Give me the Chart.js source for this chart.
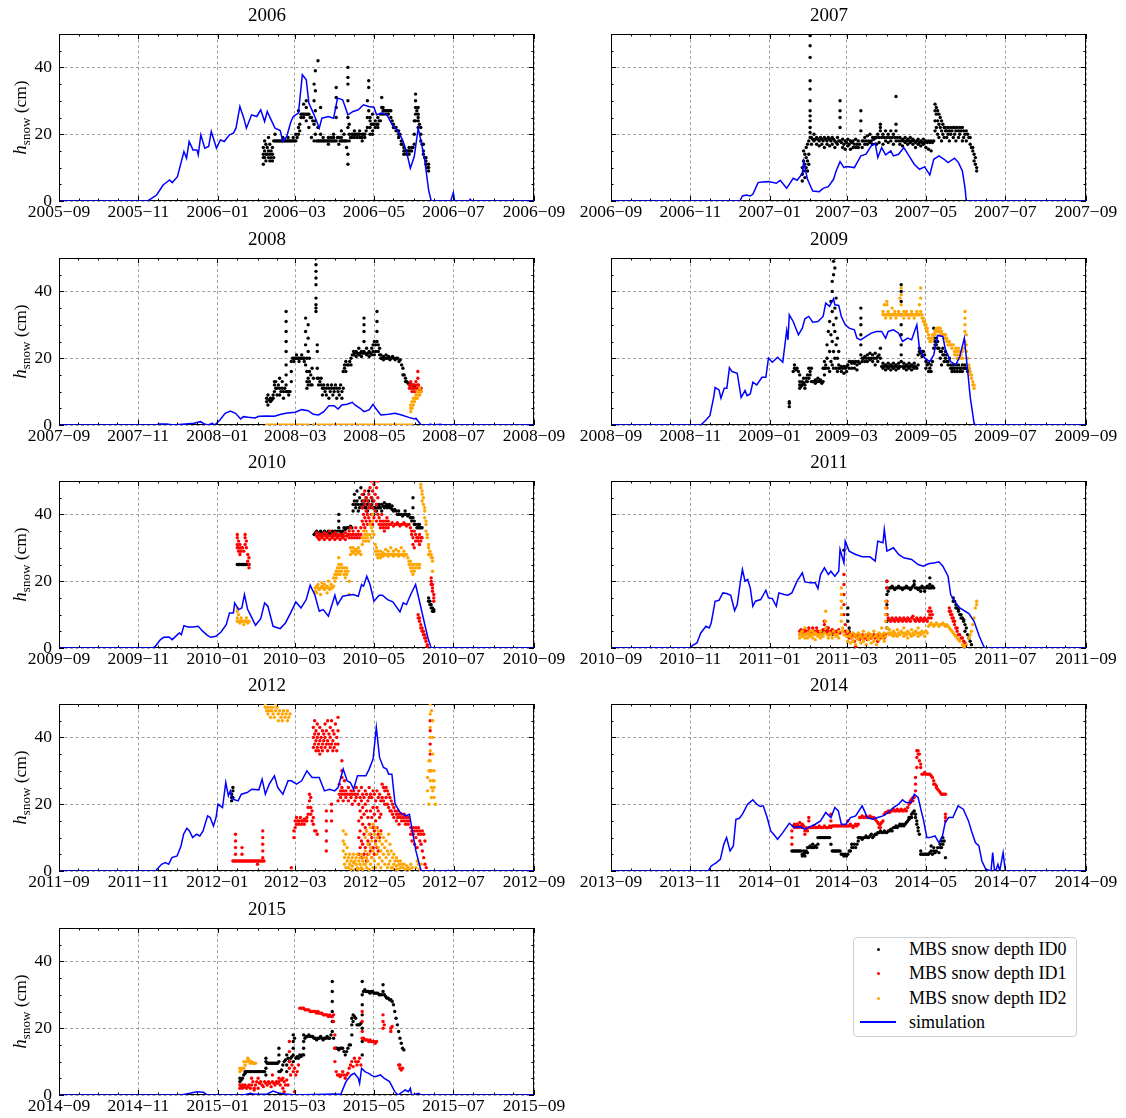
<!DOCTYPE html>
<html>
<head>
<meta charset="UTF-8">
<title>MBS snow depth vs simulation</title>
<script src="https://cdn.jsdelivr.net/npm/chart.js"></script>
<style>
  body { margin: 0; background: #fff; }
  #page { position: relative; width: 1126px; height: 1118px; }
  #page canvas { position: absolute; }
  .legend { position: absolute; left: 853px; top: 937px; width: 222px; height: 98px; border: 1px solid #cfcfcf;
            border-radius: 4px; background: #fff; font-family: 'Liberation Serif', serif; font-size: 18px; color: #000; }
  .legend .row { position: absolute; left: 0; width: 100%; height: 24px; }
  .legend .dot { position: absolute; left: 23px; top: 10.5px; width: 3px; height: 3px; border-radius: 50%; }
  .legend .ln { position: absolute; left: 6px; top: 11px; width: 36px; height: 2px; background: #0000ff; }
  .legend .txt { position: absolute; left: 55px; top: 0; line-height: 24px; white-space: nowrap; }
</style>
</head>
<body>
<div id="page"></div>
<script>
// x = days since 1 September of the season start, y = snow depth in cm

const sim2006 = [[0,0],[68,0],[70,0.5],[74,1.5],[75,1.8],[80,4.8],[85,6.3],[87,5.5],[91,7.3],[96,14.8],[98,12.8],[100,17.8],[103,15.3],[106,15.3],[107,13.8],[109,19.8],[112,15.8],[115,16.3],[117,20.8],[121,15.8],[124,18.3],[127,17.8],[131,19.8],[134,20.3],[136,21.8],[139,28.3],[142,24.8],[144,21.8],[148,25.8],[152,25.3],[155,27.3],[158,23.8],[160,26.8],[163,24.3],[166,21.8],[170,21.1],[172,17.8],[175,19.3],[178,23.5],[180,25.3],[184,26.3],[187,37.8],[190,36.3],[192,29.3],[196,25.8],[200,21.8],[202,24.8],[207,25.3],[211,24.8],[214,30.8],[218,30.3],[222,25.8],[226,26.8],[230,27.3],[234,28.8],[238,28.3],[242,28.1],[244,25.8],[248,26.3],[252,25.8],[256,22.8],[260,21.3],[264,18.3],[267,14.8],[270,9.8],[273,13.3],[276,21.8],[278,18.3],[281,12.3],[284,3.3],[286,0],[301,0],[303,2.5],[304,0],[315,0],[316,0.5],[317,0],[365,0]];
const id0_2006 = [[157,14],[157,13],[157,16],[157,11],[158,15],[158,18],[158,13],[159,14],[159,12],[159,17],[160,16],[160,14],[161,13],[161,15],[161,19],[162,14],[162,17],[162,12],[163,15],[163,13],[164,14],[164,16],[164,12],[165,13],[165,18],[166,18],[166,20],[167,18],[168,18],[169,18],[170,18],[171,18],[172,18],[172,19],[173,18],[174,18],[175,18],[176,18],[176,19],[177,18],[178,18],[179,18],[180,18],[180,19],[181,18],[182,18],[182,20],[183,19],[184,20],[184,22],[184,27],[185,23],[185,21],[186,26],[186,25],[187,26],[188,26],[188,25],[188,29],[189,26],[190,26],[190,24],[190,30],[190,28],[191,26],[192,26],[192,22],[193,25],[194,25],[194,19],[195,24],[196,18],[196,23],[196,30],[196,35],[197,33],[197,39],[197,27],[197,24],[197,20],[198,18],[199,18],[199,42],[199,22],[200,18],[201,18],[201,20],[201,28],[202,18],[203,18],[203,19],[204,18],[205,18],[206,18],[207,18],[207,17],[207,19],[208,18],[209,18],[209,19],[210,18],[211,18],[211,19],[211,20],[212,18],[213,18],[213,25],[213,34],[213,28],[213,31],[214,19],[215,19],[215,17],[216,18],[217,18],[217,19],[217,21],[218,18],[219,18],[219,20],[220,18],[221,18],[221,16],[222,14],[222,11],[222,30],[222,35],[222,37],[222,40],[222,25],[222,22],[223,18],[223,20],[223,23],[224,19],[225,19],[225,20],[226,20],[227,20],[227,19],[227,21],[228,20],[229,20],[229,19],[230,20],[231,19],[231,20],[231,21],[232,19],[233,19],[233,20],[233,18],[234,20],[235,20],[235,19],[236,21],[237,22],[237,25],[237,30],[238,34],[238,36],[238,27],[239,22],[239,25],[239,20],[239,24],[240,23],[241,23],[241,21],[241,26],[241,20],[242,23],[243,24],[243,22],[244,23],[245,23],[245,22],[245,25],[246,24],[247,24],[247,26],[248,28],[248,31],[249,27],[249,26],[249,28],[250,27],[251,27],[251,26],[252,27],[253,27],[253,26],[254,27],[255,27],[255,25],[256,24],[257,23],[257,22],[258,22],[259,22],[259,21],[260,21],[261,21],[261,20],[261,19],[262,20],[263,18],[263,17],[264,17],[265,16],[265,15],[265,14],[266,15],[267,15],[267,14],[268,15],[269,15],[269,14],[269,16],[270,15],[271,15],[271,16],[272,16],[273,17],[273,20],[273,24],[274,24],[274,28],[274,32],[274,30],[274,26],[275,27],[276,26],[276,28],[276,24],[276,22],[276,25],[277,23],[278,22],[278,20],[278,18],[279,17],[280,17],[280,15],[280,14],[281,13],[282,13],[282,12],[282,11],[283,10],[284,10],[284,9],[284,11]];

const sim2007 = [[0,0],[99,0],[101,1.5],[104,1.8],[107,1.5],[109,2],[113,5.5],[116,5.7],[121,5.8],[127,5.3],[130,6.2],[135,3.8],[140,6.8],[143,6.2],[147,8.2],[148,11.8],[151,6.5],[155,3],[160,2.8],[163,3.8],[167,4.3],[171,6.5],[173,9],[176,11.8],[179,10],[181,10.3],[187,10],[192,13.5],[196,14],[200,16.5],[203,17.3],[205,13],[208,16],[211,13.8],[215,15],[217,13.5],[221,14],[225,16],[229,13.5],[233,11],[237,9.5],[241,10.2],[245,7.8],[248,12.5],[252,13.5],[256,12.5],[259,11.5],[264,12.8],[267,11.5],[270,9],[272,4],[273,0],[365,0]];
const id0_2007 = [[147,8],[147,10],[147,6],[148,12],[148,9],[148,15],[149,11],[149,7],[149,14],[150,13],[150,10],[150,16],[151,12],[151,9],[151,17],[152,14],[152,11],[152,18],[153,19],[153,20.5],[153,22],[153,24],[153,25.5],[153,27],[153,30],[153,33.5],[153,36],[153,43],[153,46.5],[153,49.5],[154,19],[154,17],[155,18.5],[156,18],[156,20],[157,18.5],[158,17],[158,19],[159,18.5],[160,18],[160,16.5],[161,19],[162,18.5],[162,17],[163,18],[164,19],[164,16],[165,18.5],[166,18],[166,17],[167,19],[168,18.5],[168,16.5],[169,18],[170,19],[170,17],[171,18.5],[172,18],[172,16],[173,17.5],[174,19],[174,17],[175,18],[176,18],[176,22],[176,25],[176,27],[176,30],[177,17.5],[178,16],[178,18.5],[179,17],[180,18],[180,15.5],[181,17.5],[182,16.5],[182,18.5],[183,17],[184,18],[184,15.5],[185,17.5],[186,16],[186,18],[187,17],[188,18.5],[188,16],[189,17],[190,16],[190,18],[191,17],[192,21],[192,24],[192,27],[193,18],[193,16],[194,18],[195,17],[195,19],[196,18],[197,17],[197,19.5],[198,18],[199,17.5],[199,20],[200,18],[201,19],[201,17],[202,18.5],[203,19],[204,19],[204,17],[205,20],[206,19],[206,17.5],[207,21],[207,23],[207,22],[208,19],[209,20],[209,17],[210,19],[211,21],[211,18],[212,19],[213,20],[213,17.5],[214,19],[215,21],[215,18],[216,19],[217,20],[217,17],[218,19],[219,21],[219,23],[219,31.3],[219,18],[220,19],[221,18],[222,17],[222,19],[223,18],[224,18.5],[224,16.5],[225,18],[226,17.5],[226,19],[227,18],[228,17],[228,18.5],[229,18],[230,17.5],[230,19],[231,18],[232,17],[232,18.5],[233,18],[234,17.5],[234,16],[235,18],[236,17],[236,18.5],[237,17.5],[238,18],[238,16.5],[239,17.5],[240,17],[240,18.5],[241,17.5],[242,16],[242,18],[243,17.5],[244,15.5],[244,18],[245,17.5],[246,18],[246,15],[247,17.5],[248,18],[249,29],[249,27],[249,24],[249,21],[250,28],[250,26],[250,22],[251,27],[251,24],[251,20],[252,26],[252,23],[252,19],[253,25],[253,22],[254,24],[254,21],[254,18],[255,23],[255,20],[256,22],[256,19],[257,22],[257,21],[258,21],[258,19],[259,22],[259,20],[260,21],[260,18],[261,22],[261,20],[262,21],[263,22],[263,19],[264,22],[264,20],[265,21],[265,18],[266,22],[267,21],[267,19],[268,22],[268,20],[269,21],[270,22],[270,18],[271,21],[271,19],[272,20],[273,21],[273,18],[274,20],[275,19],[276,17],[276,19],[277,16],[278,15],[278,16],[279,14],[279,12],[280,11],[280,13],[281,10],[281,9]];

const sim2008 = [[0,0],[75,0],[77,0.3],[83,0.3],[88,0],[104,0.5],[109,1],[112,0.3],[115,0],[118,0.5],[120,0],[124,1.5],[128,3.5],[132,4.2],[136,3.5],[140,1.8],[142,2.5],[146,2.3],[151,2.1],[154,2.6],[160,2.7],[166,2.6],[171,3.2],[176,3.6],[182,3.8],[187,4.6],[192,4.3],[196,3.2],[200,3],[204,4],[208,5.8],[212,5.8],[215,4.8],[218,6],[222,6.2],[226,6.8],[228,6],[232,5],[235,4],[239,4.5],[242,6.2],[244,5],[248,3],[254,3.2],[259,3.5],[264,3],[270,2.2],[274,1.8],[275,2],[278,0.5],[279,0],[285,0],[286,0.3],[288,0],[294,0.2],[296,0],[366,0]];
const id0_2008 = [[160,7],[160,8],[161,6],[161,9],[162,7.5],[163,8],[163,7],[164,7.5],[165,8],[165,9],[166,12],[166,13],[166,10],[167,11],[167,13],[168,11],[168,9],[169,12],[170,11],[170,9],[170,14],[171,10],[172,11],[172,13],[173,10],[173,8],[174,11],[175,10],[175,12],[175,15],[175,18],[175,22],[175,25],[175,28],[175,31],[175,34],[176,10],[177,10],[177,9],[178,10],[179,13],[179,16],[179,19],[180,20],[181,20],[181,19],[182,20],[183,20],[183,21],[184,20],[185,20],[185,19],[186,20],[187,20],[187,21],[188,20],[189,19],[189,20],[190,18],[190,32],[190,28],[190,24],[191,20],[191,16],[191,13],[191,11],[192,30],[192,26],[192,22],[192,14],[192,12],[193,20],[193,16],[193,13],[194,12],[194,15],[195,17],[195,12],[196,14],[198,50],[198,48],[198,46],[198,44],[198,42],[198,38],[198,36],[198,35],[198,34],[199,24],[199,22],[199,17],[199,14],[200,14],[200,12],[201,13],[202,12],[202,14],[203,11],[203,9],[204,11],[204,12],[205,10],[206,11],[206,9],[207,12],[208,11],[208,8],[209,10],[210,11],[210,12],[211,9],[212,11],[212,10],[213,12],[214,11],[214,8],[215,10],[216,11],[216,9],[217,12],[218,10],[218,8],[219,11],[219,16],[220,17],[220,18],[221,19],[221,16],[222,18],[223,18],[224,19],[225,18],[225,20],[226,21],[227,22],[227,21],[228,21.5],[229,22],[229,20.5],[230,21.5],[231,21],[231,23],[232,21.5],[233,22],[233,20.5],[234,21.5],[235,22],[235,25],[235,28],[235,30],[235,32],[236,21.5],[237,21],[237,23],[238,21.5],[239,22],[239,20.5],[240,21.5],[241,23],[241,21],[242,22],[242,24],[243,21],[243,25],[244,22],[244,24],[245,25],[245,28],[245,31],[245,34],[246,22],[246,24],[247,21],[247,23],[248,21],[248,20],[249,20],[250,20.5],[250,19.5],[251,20],[252,21],[252,20],[253,20],[254,20.5],[255,20],[255,19.5],[256,20],[257,20.5],[258,20],[259,19.5],[260,20],[261,20],[262,19],[263,19.5],[264,18],[265,17],[265,15],[266,15],[267,14],[267,13],[268,13],[269,12.5],[270,12],[271,12],[272,12],[273,11],[274,11.5]];
const id1_2008 = [[270,12],[270,11],[271,13],[271,11],[272,12],[272,10],[273,12],[273,11],[274,10],[274,12],[275,11],[275,13],[276,12],[276,10],[276.5,16],[276.5,14],[277,11],[277,12],[278,10],[278,11],[279,10],[279,11]];
const id2_2008 = [[160,0],[162,0],[164,0],[166,0],[168,0],[170,0],[172,0],[174,0],[176,0],[178,0],[180,0],[182,0],[184,0],[186,0],[188,0],[190,0],[192,0],[196,0],[198,0],[200,0],[202,0],[204,0],[206,0],[208,0],[210,0],[212,0],[214,0],[216,0],[218,0],[220,0],[222,0],[224,0],[226,0],[228,0],[230,0],[232,0],[234,0],[236,0],[238,0],[240,0],[242,0],[244,0],[246,0],[248,0],[250,0],[252,0],[254,0],[256,0],[258,0],[260,0],[262,0],[264,0],[266,0],[268,0],[270,0],[272,0],[271,4],[271,5],[271,6],[272,5],[272,7],[273,6],[273,8],[274,7],[274,8],[275,8],[275,9],[276,8],[276,10],[277,9],[277,10],[278,9],[278,11],[279,10]];

const sim2009 = [[0,0],[69,0],[73,1.5],[76,2.8],[79,8.5],[80,11.2],[83,10.5],[84.5,8],[87,11],[89,11],[91,17.2],[93,16],[97,15.5],[100,8.2],[103,10.3],[104.5,8.8],[107,9.3],[109,12.8],[112,12],[116,14.3],[119,14.3],[121,20],[124,18.8],[128,20.3],[132,18.8],[135,28.3],[136,25.5],[137,33],[140,31],[144,27],[147,29],[149,31.8],[152,32.5],[155,30.8],[159,31],[163,32.5],[165,36.5],[168,35.5],[171,37.8],[172,36],[175,35.8],[177,32.5],[180,30],[183,29],[187,28.5],[189,26],[192,25.5],[196,26.5],[200,27.5],[204,28],[208,28],[211,26],[213,28],[217,28.5],[221,27.5],[224,25],[228,26],[231,25.5],[235,30],[237,23],[241,20],[245,19],[248,21],[251,26.8],[255,26.5],[257,22.5],[261,19],[265,18],[268,20.5],[271.5,26],[274,16.5],[276,8.5],[279,0.5],[280,0],[365,0]];
const id0_2009 = [[137,5.5],[137,6.5],[137,7],[140,16],[141,17],[141,18],[142,16.5],[143,17],[144,16],[145,11],[145,12],[145,13],[145,15],[146,12],[146,11.5],[147,12],[147,13],[148,12.5],[148,14],[149,12],[149,11],[150,13],[150,14],[151,13],[151,15],[152,14],[152,17],[153,15],[153,16],[154,13],[154,17],[155,13],[156,13],[157,13.5],[157,12.5],[158,13],[159,13],[159,14],[160,13],[161,13.5],[162,13],[162,12.5],[163,13],[163,17],[164,17],[164,15],[164,19],[165,17],[165,18],[166,20],[166,24],[167,28],[167,17],[168,22],[168,31],[168,16],[169,37],[169,27],[169,19],[170,43],[170,40],[170,34],[170,25],[170,18],[171,49],[171,45],[171,30],[171,22],[171,17],[172,50],[172,47],[172,35],[172,28],[172,20],[173,38],[173,32],[173,24],[173,17],[174,26],[174,20],[174,16],[175,22],[175,18],[175,17],[176,17],[177,17.5],[177,16],[178,17],[179,17.5],[179,15.5],[180,17],[181,17.5],[181,16],[182,18],[183,19],[183,17],[184,19],[185,18.5],[185,17],[186,19],[187,18.5],[187,17],[188,19],[189,18],[189,16.5],[190,19],[191,18.5],[192,35],[192,32],[192,30],[192,27],[192,24],[192,21],[193,19],[193,20],[194,20],[195,20.5],[195,19],[196,20],[197,21],[197,19],[198,20],[199,21.5],[199,19.5],[200,20],[201,21],[201,19],[202,20],[203,21.5],[203,18],[204,20],[205,20.5],[205,19],[206,21],[207,23],[207,20],[208,17.5],[209,17],[209,18.5],[210,17.5],[211,16.5],[211,18],[212,17.5],[213,17],[213,18.5],[214,17.5],[215,16.5],[215,18],[216,17.5],[217,17],[217,18.5],[218,17.5],[219,16.5],[219,18],[220,17.5],[221,17],[221,18.5],[222,17.5],[223,42],[223,40],[223,37],[223,33],[223,30],[223,27],[223,24],[223,21],[223,19],[224,17.5],[225,17],[225,18.5],[226,17.5],[227,16.5],[227,18],[228,17.5],[229,17],[229,18.5],[230,17.5],[231,16.5],[231,18],[232,17.5],[233,17],[233,18.5],[234,17.5],[235,17],[236,18],[236,21],[237,22],[237,23],[238,21.5],[239,22],[239,20.5],[240,22],[241,21],[242,19],[242,17],[243,18],[244,16],[244,18.5],[245,17],[246,18],[246,16],[247,19],[248,23],[248,26],[248,29],[249,25],[249,24],[250,24],[250,26],[251,23],[251,25],[252,23],[253,22],[253,20],[254,22],[254,18],[255,21],[255,23],[256,21],[256,19],[257,20],[257,22],[258,19],[258,21],[259,19],[259,18],[260,20],[261,18],[261,17],[262,17],[262,16],[263,18],[263,17],[264,17],[264,16],[265,18],[266,17],[266,16],[267,18],[268,17],[268,16],[269,17],[270,18],[270,16],[271,17],[272,17],[272,18],[273,17],[274,16],[275,17]];
const id2_2009 = [[209,33],[209,34],[210,33],[210,36],[211,33],[211,32],[212,33],[212,37],[212,36],[213,33],[213,34],[214,33],[215,32],[215,33],[216,33],[216,35],[217,33],[218,34],[218,33],[219,33],[219,32],[220,33],[221,34],[221,33],[222,33],[222,38],[223,41],[223,39],[223,36],[223,33],[224,33],[225,32],[225,34],[226,33],[227,33],[227,34],[228,33],[229,32],[229,33],[230,33],[231,34],[231,33],[232,33],[233,33],[233,32],[234,33],[235,34],[235,33],[236,33],[237,33],[237,36],[238,41],[238,38],[238,34],[239,32],[239,33],[240,31],[240,32],[241,30],[241,31],[242,29],[242,30],[243,29],[243,28],[244,27],[244,26],[245,26],[245,25],[246,25],[246,26],[247,26],[247,27],[248,27],[249,28],[249,27],[250,29],[250,28],[251,28],[251,29],[252,29],[252,28],[253,29],[253,27],[254,28],[254,27],[255,27],[256,27],[256,26],[257,26],[257,27],[258,25],[258,26],[259,25],[259,24],[260,24],[260,25],[261,24],[262,24],[262,23],[263,24],[264,22],[264,21],[265,21],[265,23],[266,20],[266,22],[267,21],[267,23],[268,20],[268,22],[269,21],[270,20],[270,22],[271,23],[272,34],[272,32],[272,30],[272,28],[272,25],[273,27],[273,24],[273,22],[274,20],[275,17],[275,18],[276,16],[276,15],[277,14],[277,15],[278,12],[278,13],[279,11],[279,12]];

const sim2010 = [[0,0],[72,0],[74,0.5],[78,2.5],[80.5,3.2],[84.5,3.3],[87,2.5],[91,4],[92.5,4.5],[94,4],[96,6.7],[99,6.3],[103,6.3],[107,6.5],[110,5.2],[114,3.8],[116.5,3.2],[120.5,3.5],[124.5,4.8],[128.5,7],[131,10.5],[134,10.5],[135,13.5],[138,11.5],[140.5,12],[142.5,16],[145,11.5],[147,10],[151,6.8],[155,8.8],[158,13.5],[160.5,12.5],[164.5,6.5],[170,5.8],[174,7.5],[178,10.5],[182,13.8],[186,12],[190,14.5],[193,18.8],[196.5,16],[200,11],[203,11.5],[207,9.5],[212,15.8],[214,13],[218,15.5],[222,15.8],[226,16],[230,15.5],[232.5,19],[234,18.5],[236.5,21.5],[239,19],[242,14],[246,15.8],[248.5,15.8],[252.5,14.5],[256.5,13.8],[262,10.8],[264.5,13.5],[267,13],[270,15.8],[274,19],[277,14],[280.5,8],[283.5,3],[286,0],[365,0]];
const id0_2010 = [[137,25],[138,25],[139,25],[140,25],[141,25],[142,25],[143,25],[144,25],[145,25],[146,25],[196,34],[197,34.5],[198,35],[199,34.5],[200,34],[201,35],[202,34.5],[203,34],[204,35],[205,34.5],[206,34],[207,35],[208,34.5],[209,34],[210,35],[211,34.5],[212,35],[213,34],[214,35],[215,36],[215,38],[215,40],[216,35],[217,34.5],[218,35],[219,36],[220,35.5],[221,36],[222,36],[223,36],[224,36.5],[225,36],[226,43],[226,41],[227,44],[227,46],[228,43],[228,42],[229,44],[229,47],[230,43],[230,41],[231,42],[231,45],[232,43],[232,48],[233,44],[233,42],[234,43],[234,46],[235,42],[235,44],[236,42],[236,45],[237,43],[237,41],[238,44],[238,47],[239,42],[240,43],[240,45],[241,42],[241,44],[242,42],[242,40],[243,42],[244,43],[244,41],[245,42],[246,42],[246,43],[247,42],[248,41],[248,43],[249,42.5],[250,42],[250,43.5],[251,42.5],[252,42],[252,43],[253,42.5],[254,42],[254,43],[255,42],[256,41.5],[256,42.5],[257,41],[258,41.5],[259,41],[260,40],[261,40],[261,41],[262,40],[263,40],[264,39.5],[265,40],[266,40],[266,41],[267,40],[268,39.5],[269,40],[270,39],[271,39],[271,38],[272,45],[272,42],[272,39],[273,38],[273,37],[274,37],[275,36],[276,37],[276,36],[277,36],[277,37],[278,36],[279,36],[284,15],[284,14],[285,14],[285,13],[286,13],[286,12],[287,12],[287,11],[288,11],[288,11.5]];
const id1_2010 = [[137,34],[137,33],[137,31],[137,30],[138,32],[138,30],[138,29],[139,31],[139,29],[139,28],[140,30],[140,29],[141,30],[142,29],[143,34],[143,33],[143,31],[144,32],[144,30],[145,28],[145,26],[146,27],[146,25],[146,24],[198,33.5],[198,34.5],[199,33],[200,34],[200,32.5],[201,33.5],[202,34],[202,33],[203,33.5],[204,34.5],[204,32.5],[205,33.5],[206,34],[206,33],[207,33.5],[208,35],[208,32.5],[209,33.5],[210,34],[210,33],[211,33.5],[212,34.5],[212,32.5],[213,33.5],[214,34],[214,33],[215,33.5],[216,34],[216,32.5],[217,33.5],[218,34],[218,33],[219,33.5],[220,34.5],[220,32.5],[221,33.5],[222,34],[223,33],[223,35],[224,34],[224,36],[225,33],[226,35],[226,34],[227,33],[228,34],[228,36],[229,33],[230,34],[230,35],[231,33],[232,34],[232,36],[233,38],[233,42],[233,46],[234,37],[234,40],[234,44],[235,36],[235,39],[235,43],[235,47],[236,38],[236,41],[236,45],[237,37],[237,40],[237,44],[238,39],[238,42],[238,46],[239,38],[239,43],[239,48],[240,40],[240,45],[240,50],[241,37],[241,42],[241,47],[242,39],[242,44],[242,49],[243,41],[243,46],[243,50],[244,38],[244,43],[244,48],[245,40],[245,45],[245,50],[246,37],[246,39],[247,36],[247,38],[248,37],[248,40],[249,36],[249,38],[250,37],[250,35],[251,38],[251,36],[252,37],[252,39],[253,36],[253,38],[254,37],[255,37],[256,37.5],[257,36.5],[258,37],[259,37],[260,37.5],[261,37],[262,36.5],[263,37],[264,37],[265,37.5],[266,37],[267,36.5],[268,37],[269,37],[270,36],[271,35],[271,34],[272,33],[272,31],[273,30],[273,35],[274,32],[274,34],[275,33],[276,33],[276,32],[277,34],[277,31],[278,33],[278,32],[279,33],[276,10],[276,9],[277,8],[277,9],[278,7],[278,6],[279,6],[279,5],[280,5],[280,4],[281,3],[281,4],[282,2],[282,3],[283,1],[283,0.5],[286,21],[286,20],[286,19],[287,19],[287,18],[287,17],[288,16],[288,15],[288,14]];
const id2_2010 = [[137,8],[137,9],[137,11],[137,12],[138,8],[138,10],[139,8],[139,7.5],[140,8],[140,9],[141,8],[142,8],[142,7],[143,8],[144,8],[144,9],[145,7.5],[146,8],[197,18],[197,17],[198,18.5],[198,16.5],[199,18],[199,19],[200,17.5],[201,18],[201,16],[202,18.5],[202,19.5],[203,18],[204,17.5],[204,19],[205,18],[206,18.5],[206,16.5],[207,18],[207,20],[208,17.5],[209,18],[209,19],[210,18],[211,18.5],[211,21],[212,22],[212,20],[213,23],[213,21],[214,24],[214,22],[215,25],[215,27],[215,23],[216,24],[216,22],[217,25],[217,23],[218,24],[219,22],[219,24],[220,23],[220,21],[221,22],[221,24],[222,23],[223,16],[223,20],[224,28],[224,30],[225,29],[226,28.5],[226,30],[227,29],[228,28],[228,29.5],[229,29],[230,28.5],[230,30],[231,29],[232,28],[233,31],[233,33],[234,32],[234,35],[235,33],[235,34],[236,32],[236,35],[237,33],[237,34],[238,32],[239,34],[239,37],[240,33],[240,36],[241,35],[241,38],[241,40],[242,34],[243,31],[243,29],[244,30],[244,28],[245,29],[245,27],[246,28],[247,27],[247,29],[248,28],[249,28.5],[249,27.5],[250,28],[251,28],[251,29.5],[252,28],[253,27.5],[253,29],[254,28],[255,28],[255,30],[256,28],[257,27.5],[257,29],[258,28],[259,28],[259,29.5],[260,28],[261,27.5],[261,29],[262,28],[263,28],[263,30],[264,28],[265,27.5],[265,29],[266,28],[267,28],[268,27],[269,26],[269,25],[270,24],[270,26],[271,23],[271,25],[272,22],[272,24],[273,23],[273,25],[274,24],[275,25],[276,24],[276,25],[277,24],[277,25],[278,49],[278,48],[279,47],[279,46],[279,44],[280,45],[280,43],[281,42],[281,41],[281,39],[282,38],[282,37],[282,35],[283,34],[283,33],[284,31],[284,30],[284,28],[285,29],[285,28],[286,27],[286,28],[287,26],[287,27],[287,23]];

const sim2011 = [[0,0],[60.5,0],[62.7,0.8],[66,1.5],[69,4.5],[73,6.5],[75.5,6],[77,7.5],[80,14],[83,14.3],[86,16.5],[89,16.3],[92,15.8],[95,11.2],[97,13],[99.5,20],[101,23.5],[103,20],[105,20.5],[107,18],[109,12.5],[111,14],[115,14.5],[119,17.3],[121,15],[124,14.8],[127,12.5],[129,16.5],[133,16],[136,15.8],[139,16.5],[143,20],[147,22.5],[149,19.8],[153,19.5],[157,19.5],[159,17.8],[161,22],[164,24],[167,22],[169,23],[172,21.5],[175,23],[176,29.5],[179,25.5],[180,32],[183,29],[188,28],[193,27.3],[199,27.3],[203,26],[205,32],[209,31.5],[210,35.5],[212,29],[217,30],[221,28],[225,27],[231,26.5],[236,25],[240,24.5],[244,25.2],[249,25.5],[252,25.8],[255,24.5],[259,21.5],[261,16],[264,14],[268,12],[275,10.3],[279,8],[283,3.5],[287,0],[365,0]];
const id0_2011 = [[162,5],[166,6],[170,4],[174,5],[179,29.3],[182,12],[182,10],[182,8],[183,6],[183,5],[183,4],[212,20],[212,18],[212,16],[212,13],[212,10],[212,8],[212,6],[213,17],[214,18],[215,18],[216,18.5],[217,18],[218,17.5],[219,18],[220,18],[221,18.5],[222,18],[223,18],[224,17.5],[225,18],[226,18],[227,18.5],[228,18],[229,18],[230,17.5],[231,18],[232,18.5],[233,20],[233,19],[234,18],[235,18],[236,17.5],[237,18],[238,18],[238,17],[239,18.5],[240,18],[241,18],[241,17],[242,18],[243,18.5],[244,18],[245,21],[245,19],[245,18],[246,18],[247,18.5],[248,18],[263,15],[263,14],[264,14],[265,13],[265,12],[266,12],[267,11],[267,11.5],[268,10],[269,10],[269,9],[270,9],[271,8],[271,8.5],[272,7],[272,5],[273,6],[274,4],[275,3],[276,2],[277,1]];
const id1_2011 = [[145,5],[145,4],[146,5.5],[147,4.5],[148,5],[149,5.5],[149,4],[150,5],[151,4.5],[152,5],[152,6],[153,5],[154,4.5],[155,5],[155,6],[156,5],[157,4.5],[158,5],[158,6],[159,5],[160,4.5],[161,5],[162,4],[163,5.5],[164,7],[164,8],[165,5],[166,4.5],[167,5],[167,6],[168,4],[169,5],[170,5.5],[171,4.5],[172,5],[173,4],[174,5],[175,5.5],[176,4.5],[179,22],[179,19],[179,16],[179,13],[179,10],[180,7],[180,5],[181,4],[182,3.5],[183,3],[183,4.5],[184,3.5],[185,3],[185,4],[186,3.5],[187,2],[187,4],[188,0.5],[188,3.5],[189,3],[190,4],[191,3.5],[191,2.5],[192,3.5],[193,4],[193,3],[194,3.5],[195,3],[196,4],[197,3.5],[197,2.5],[198,3.5],[199,4],[200,3],[201,3.5],[202,4],[203,3],[204,3.5],[205,4],[205,2],[206,3.5],[207,3],[208,4],[209,3.5],[210,3],[211,4],[212,20],[212,18],[212,14],[212,12],[212,10],[213,9],[214,8.5],[215,8],[216,9],[217,8.5],[218,8],[219,9],[220,8.5],[221,8],[222,9],[223,8.5],[224,8],[225,9],[226,8.5],[227,8],[228,9],[229,8.5],[230,8],[231,9],[232,9.5],[233,8.5],[234,8],[235,9],[236,8.5],[237,8],[238,9],[239,8.5],[240,8],[241,9],[242,8.5],[243,8],[244,9],[244,11],[245,10],[245,12],[246,9],[246,11],[247,10],[260,12],[260,11],[261,10],[261,11],[262,9],[262,10],[263,8],[263,9],[264,7],[264,8],[265,6],[266,5],[266,6],[267,4],[268,4],[269,3],[270,3],[271,2],[272,1.5]];
const id2_2011 = [[145,4],[145,3],[146,4.5],[147,3.5],[147,5],[148,4],[149,3],[149,6],[150,4],[151,4.5],[151,3],[152,4],[153,5],[153,3.5],[154,4],[155,3],[155,5],[156,4],[157,4.5],[157,2.5],[158,4],[159,3.5],[160,4],[161,3],[161,5],[162,4],[163,3.5],[164,4.5],[165,11],[165,8],[165,6],[166,4],[167,3],[168,4.5],[169,4],[170,3],[171,5],[172,4],[173,3.5],[174,4],[175,5],[175,3],[177,18],[177,16],[177,14],[177,12],[177,10],[177,8],[178,6],[178,5],[179,4],[181,3.5],[182,2],[182,5],[183,3.5],[184,4],[184,1.5],[185,3],[186,4.5],[186,2],[187,3.5],[188,4],[188,1],[189,3],[190,4.5],[190,2.5],[191,3.5],[192,4],[192,1.5],[193,3],[194,5],[194,2],[195,3.5],[196,4],[196,1],[197,3],[198,4.5],[198,2.5],[199,3.5],[200,4],[200,1.5],[201,3],[202,5],[202,2],[203,3.5],[204,4],[204,1],[205,3],[206,4.5],[206,2.5],[207,3.5],[208,4],[208,6],[209,3],[210,4.5],[210,2],[211,3.5],[211,14],[211,12],[211,10],[211,8],[212,6],[213,4.5],[214,4],[214,5.5],[215,4.5],[216,4],[217,5],[217,3.5],[218,4.5],[219,4],[220,5.5],[220,3.5],[221,4.5],[222,4],[223,5],[224,4.5],[225,3.5],[225,6],[226,4.5],[227,4],[228,5],[228,3],[229,4.5],[230,4],[231,5.5],[231,3.5],[232,4.5],[233,4],[234,5],[235,4.5],[236,3.5],[236,6],[237,4.5],[238,4],[239,5],[240,4.5],[241,3.5],[242,5],[243,4.5],[244,6.5],[245,7],[246,7.5],[247,7],[248,6.5],[249,7],[250,7.5],[251,7],[252,6.5],[253,7],[254,7],[255,7.5],[256,7],[257,6.5],[258,7],[259,6.5],[260,6],[261,5.5],[262,5],[263,4.5],[264,4],[265,3.5],[266,3],[267,2.5],[268,2],[270,1],[271,0.5],[272,0.5],[273,1],[275,3],[276,4],[277,5],[278,7],[279,9],[280,12],[281,13],[281,14]];

const sim2012 = [[0,0],[74,0],[75,0.3],[79,2],[82,2.5],[84.5,2],[87,4],[91,4.5],[94,7.5],[96,11],[98.5,12.8],[100.5,12],[103,10],[106,11],[108.5,10.5],[111,12],[114.5,16.5],[116.5,16],[119,13.5],[121,16],[122.5,20],[126,19],[128.5,26.5],[130.5,22.5],[132,24],[134,21.5],[138,21],[140.5,23],[145,23.5],[148.5,24.5],[154,24.3],[156.5,27.5],[159,23],[162,26],[166,28.5],[168.5,25],[172.5,23],[176.5,27],[179,27],[183,26],[187,27],[191,30],[195,28],[200.5,28],[204.5,24],[208.5,24.5],[212.5,24],[215,25],[219,30.5],[222,27],[224.5,26.5],[227,24.5],[230,28.5],[234,28.5],[236.5,28.5],[239,30.5],[242,33.5],[244.5,43],[247,34],[250,31],[252.5,30.5],[254,29],[256.5,29],[259,20],[263,17.5],[267,16.5],[270,17],[272.5,11.5],[275,6],[278,1.5],[279,0],[299,0],[300,0.2],[301,0],[366,0]];
const id0_2012 = [[133,21],[133,22],[133,23],[134,24],[134,25],[134,22]];
const id1_2012 = [[134,3],[135,3],[136,3],[136,5],[136,7],[136,9],[136,11],[137,3],[138,3],[139,3],[140,3],[141,3],[141,5],[141,7],[142,3],[143,3],[144,3],[145,3],[146,3],[147,3],[148,3],[149,3],[150,3],[151,3],[152,3],[153,2],[153,3],[154,3],[155,3],[156,3],[157,3],[157,4],[157,6],[157,8],[157,10],[157,12],[158,3],[179,1],[181,10],[181,12],[182,13],[182,15],[183,14],[183,16],[184,15],[185,15],[185,14],[186,16],[187,15],[187,14],[188,15],[189,15.5],[189,14],[190,15],[191,16],[191,15],[192,17],[192,19],[193,21],[193,23],[194,22],[194,19],[194,17],[195,18],[195,15],[196,16],[196,14],[197,12],[198,12],[199,11],[196,37],[196,40],[196,43],[197,38],[197,41],[197,45],[198,36],[198,39],[198,42],[199,37],[199,40],[199,44],[200,36],[200,38],[200,41],[201,35],[201,39],[201,43],[202,37],[202,40],[203,38],[203,42],[203,36],[204,39],[204,41],[205,37],[205,40],[205,44],[206,38],[206,42],[207,36],[207,39],[207,45],[208,38],[208,41],[209,37],[209,40],[209,43],[210,38],[210,45],[211,36],[211,39],[211,42],[212,37],[212,41],[213,38],[213,44],[214,36],[214,40],[215,38],[215,42],[215,46],[206,18],[206,15],[206,12],[206,9],[206,6],[210,20],[210,18],[210,15],[218,33],[218,30],[218,28],[218,25],[215,21],[216,23],[216,26],[217,24],[217,22],[218,23],[219,21],[219,24],[220,23],[220,27],[221,22],[221,24],[222,23],[223,21],[223,25],[224,23],[225,22],[225,24],[226,23],[226,20],[227,24],[228,23],[228,21],[229,22],[229,25],[230,23],[231,24],[231,20],[231,15],[231,10],[231,5],[232,22],[232,18],[232,12],[232,7],[233,25],[233,21],[233,16],[233,9],[233,4],[234,23],[234,19],[234,14],[234,8],[235,22],[235,17],[235,11],[235,5],[236,24],[236,20],[236,13],[236,7],[237,23],[237,18],[237,12],[237,3],[238,21],[238,16],[238,9],[238,5],[239,25],[239,22],[239,14],[239,8],[240,23],[240,18],[240,11],[240,6],[241,22],[241,16],[241,10],[241,4],[242,24],[242,19],[242,13],[242,7],[243,23],[243,17],[243,12],[243,5],[244,21],[244,15],[244,9],[245,24],[245,19],[245,13],[245,7],[246,22],[246,18],[246,11],[246,6],[247,23],[247,16],[247,10],[248,21],[248,17],[248,12],[249,26],[249,22],[250,25],[250,21],[251,24],[251,20],[252,25],[252,22],[253,24],[253,20],[254,23],[254,19],[255,22],[255,18],[256,21],[256,18],[257,20],[257,17],[258,19],[258,16],[259,18],[260,17],[260,15],[261,18],[261,16],[262,17],[262,14],[263,16],[264,17],[264,15],[265,16],[266,15],[266,17],[267,16],[267,14],[268,15],[269,16],[269,14],[270,15],[271,13],[271,11],[272,12],[272,9],[273,13],[273,11],[274,12],[274,8],[275,13],[275,10],[276,12],[276,7],[277,11],[277,13],[278,12],[278,9],[279,11],[279,8],[280,12],[280,6],[281,11],[281,4],[282,9],[282,2],[283,1],[286,45],[286,42],[286,38],[286,35],[286,30]];
const id2_2012 = [[159,50],[159,49],[160,48],[161,49],[161,47],[162,48],[163,49],[163,46],[164,48],[165,49],[165,47],[166,46],[167,50],[167,48],[168,49],[169,47],[169,45],[170,48],[171,46],[172,47],[172,45],[173,48],[174,46],[175,47],[176,45],[176,48],[177,46],[178,47],[219,12],[219,9],[219,6],[220,4],[220,2],[220,8],[221,11],[221,5],[221,1],[222,3],[222,7],[223,4],[223,1],[224,5],[224,2],[225,3],[225,0.5],[226,4],[226,1.5],[227,5],[227,2.5],[228,3],[228,0.5],[229,4],[229,2],[230,5],[230,1],[231,3],[231,0.5],[232,4],[232,2],[233,5],[233,1],[234,3],[234,0.5],[235,4],[235,2],[236,6],[236,2],[236,10],[237,4],[237,12],[237,1],[238,8],[238,3],[239,11],[239,5],[239,0.5],[240,13],[240,7],[240,2],[241,9],[241,4],[242,14],[242,6],[242,1],[243,11],[243,3],[244,8],[244,13],[244,1],[245,10],[245,5],[246,12],[246,7],[246,2],[247,9],[247,4],[248,11],[248,6],[248,1],[249,8],[249,3],[250,10],[250,5],[251,7],[251,2],[252,9],[252,4],[253,6],[253,1],[254,11],[254,5],[254,2],[255,8],[255,3],[256,6],[256,1],[257,4],[257,1],[258,5],[258,2],[259,3],[259,0.5],[260,4],[260,1.5],[261,3],[261,0.5],[262,2],[263,3],[263,1],[264,2],[265,1],[266,2],[267,0.5],[268,1.5],[269,1],[270,0.5],[271,2],[272,1],[275,1],[276,3],[277,2],[278,0.5],[279,2],[284,28],[284,24],[285,33],[285,30],[285,20],[286,50],[286,47],[286,43],[286,40],[286,36],[286,33],[286,27],[287,30],[287,25],[287,22],[287,48],[288,45],[288,40],[288,35],[288,27],[288,24],[289,30],[289,27],[289,25],[289,22],[290,20]];

const sim2014 = [[0,0],[74.7,0],[77,1.5],[81,2.5],[84,3.5],[86.7,8],[88.8,10],[91.5,6],[94,7.5],[96,15.5],[98.7,15.8],[101,17],[105,20],[109,21.3],[112,20],[114.7,19.3],[117,19.5],[120,16],[122.7,12],[125,11],[128,9.5],[132,11.5],[137,14.3],[141,13],[145,13.3],[149,12.5],[153,13.3],[157,14],[161,15],[165,17.5],[169,16],[172,19],[174.7,18],[177,14],[180.5,14],[184,16],[188,16.5],[193,19.5],[197,16],[201,15.5],[205,16],[209,16.5],[213,17.5],[217,19],[221,20],[224,21.3],[226.7,20.5],[230.7,20.5],[233,23],[236,22],[238.7,17.5],[240,15.5],[242.7,10],[245,10],[249,10.5],[252,8.5],[254.7,10.5],[256.8,14.5],[259.5,16],[262.7,16],[266.7,19.5],[270.7,18.5],[274.7,15],[277,12],[280,8.5],[282.7,7.5],[285,3],[288,0.5],[292,0],[293.3,5.5],[294.7,0],[296,0.5],[297.3,2],[298.7,0],[301.3,5.5],[303,0],[365,0]];
const id0_2014 = [[139,6],[140,6],[141,6],[142,6],[143,6],[144,6],[145,6],[146,6],[147,5],[147,4.5],[148,6],[148,5],[149,5.5],[149,4.5],[150,6],[151,5.5],[151,7],[152,7],[153,7.5],[154,7],[155,8],[155,7],[156,7],[157,7.5],[158,7],[159,10],[159,8],[160,10],[161,10],[162,10],[163,10],[164,10],[165,10],[166,10],[167,10],[168,10],[169,8],[170,6],[171,6],[172,6],[173,6],[174,6],[175,6],[176,6],[177,5],[178,5],[179,4.5],[180,5],[181,4.5],[182,5],[183,6],[184,6],[185,7],[185,8],[186,7],[187,8],[188,7],[189,8],[190,9],[190,10],[191,10],[192,10],[193,9.5],[194,10],[195,10],[196,10.5],[197,10],[198,10],[199,10.5],[200,11],[201,10],[202,10.5],[203,11],[204,11],[205,11.5],[206,11.5],[207,12],[208,11.5],[209,11.5],[210,12],[211,11.5],[212,11.5],[213,12],[214,12],[215,12.5],[216,12],[217,13],[218,13],[219,13.5],[220,13],[221,13.5],[222,14],[223,13.5],[224,14],[225,13.5],[226,14],[227,14.5],[228,15],[229,15.5],[229,16],[230,16],[231,17],[231,16],[232,17.5],[233,18],[234,17],[234,16],[235,15],[235,14],[236,13],[236,12],[237,11],[238,5],[238,6],[239,5],[240,5],[241,5],[242,5],[243,5],[244,5],[245,5.5],[246,6],[246,7.5],[247,5],[248,6],[248,7],[249,5.5],[250,6],[251,7],[252,5.5],[253,7],[253,8],[254,9],[254,7],[255,10],[255,8],[256,9],[257,4]];
const id1_2014 = [[139,8],[139,10],[139,12],[140,13.5],[141,14],[141,13],[142,13.5],[143,14],[143,13],[144,13.5],[145,14.5],[145,13],[146,13.5],[147,14],[147,13],[148,13.5],[149,12],[149,11],[150,12.5],[150,13],[151,12],[152,13],[152,16],[152,15],[153,13],[154,13],[155,13],[156,13.5],[157,13],[158,13],[159,13],[160,13.5],[161,13],[162,13],[163,13],[164,13.5],[165,13],[166,13],[167,13],[168,13.5],[169,17],[169,15],[169,13],[170,13.5],[171,13.5],[172,13.5],[173,13.5],[174,13.5],[175,13.5],[176,13.5],[177,13.5],[178,13.5],[179,13.5],[180,13.5],[181,13.5],[182,15],[182,13.5],[183,13.5],[184,14],[185,13.5],[186,13],[187,13.5],[188,14],[189,13.5],[190,14],[191,16],[192,16],[193,16.5],[194,16],[195,16],[196,16.5],[197,16],[198,16],[199,16.5],[200,16],[201,16],[202,16],[203,15.5],[204,15],[205,14.5],[206,14],[206,13],[207,13],[207,14],[208,14.5],[209,15],[210,17],[211,17.5],[212,17.5],[213,18],[214,17.5],[215,18],[216,18],[217,18.5],[218,18],[219,18],[220,18.5],[221,18],[222,18],[223,18.5],[224,18],[225,18],[226,18.5],[227,18],[228,19],[229,20],[230,20.5],[230,21],[231,21.5],[232,21],[232,22],[233,22],[234,24],[234,26],[234,28],[235,31],[235,34],[235,36],[236,36],[236,35],[237,35],[237,33],[238,32],[238,31],[239,29],[240,29],[241,29.5],[242,29],[243,29],[244,29],[245,29],[246,28.5],[247,28],[248,27],[248,26],[249,26],[250,25],[250,25.5],[251,24.5],[252,24],[253,23.5],[254,23],[255,23],[256,23],[257,23],[257,16],[257,15],[257,17]];

const sim2015 = [[0,0],[94,0],[100.5,0.5],[106,1],[111,0.8],[114,0],[142,0],[147,0.5],[150,0.2],[160,0.3],[164.5,1.2],[168.5,0.6],[174,0.3],[182,0],[211,0.3],[216.5,0.2],[220.5,4],[224.5,6],[227,6.5],[230,5],[231,3.5],[232.5,8],[235,7],[238,6.5],[240.5,5.8],[243,5.5],[247,6],[250,5],[254,4],[258,1],[260.5,0],[266,1.5],[268.5,1],[270,2],[271,0],[276.5,0.5],[278,0],[365,0]];
const id0_2015 = [[139,4],[139,5],[140,4.5],[141,5],[142,6],[143,6.5],[143,7],[144,7],[145,7],[146,7],[147,7],[148,7],[149,7],[150,7],[151,7],[152,7],[153,7],[154,7],[155,7],[156,7],[157,7],[158,7],[159,6],[159,8],[159,10],[159,11],[160,9.5],[161,9.5],[162,9.5],[163,9.5],[164,9.5],[165,9.5],[166,9.5],[167,9.5],[168,9.5],[169,7],[169,10],[169,12],[169,14],[170,7],[171,7.5],[172,9],[173,10],[174,10.5],[175,12],[175,7],[175,9],[176,11],[177,10],[178,11],[179,11.5],[180,18],[180,16],[180,14],[180,12],[180,10],[181,17],[182,11],[183,11.5],[184,11],[185,12],[186,11.5],[187,12],[188,12],[188,14],[188,16],[188,18],[189,17],[190,17.5],[191,17.5],[192,18],[193,17.5],[194,17.5],[195,17.5],[196,17],[197,17],[198,16.5],[199,17],[200,17],[201,17.5],[202,17],[203,16.5],[204,17],[205,17],[206,17.5],[207,17],[208,17],[209,18],[210,19],[210,22],[210,25],[210,28],[210,31],[210,34],[211,17],[212,14],[213,14],[214,14],[215,13.5],[216,14],[217,14],[218,14],[219,13],[220,12],[221,13],[222,14],[223,15],[224,15],[225,18],[225,21],[225,23],[226,24],[226,22],[227,23.5],[228,23],[229,21],[230,21],[231,21],[232,21.5],[233,34],[233,30],[233,27],[233,24],[233,20],[233,16],[233,12],[234,31],[235,31.5],[236,31],[237,31],[238,31],[239,30.5],[240,31],[241,31],[242,30.5],[243,30.5],[244,30.5],[245,30.5],[246,30],[247,30],[248,30],[249,33],[249,31],[250,30],[251,29.5],[252,29],[253,29],[254,28.5],[255,28.5],[256,28],[257,27],[258,25],[259,23],[260,21],[261,19],[262,17],[263,15.5],[264,14],[265,13.5]];
const id1_2015 = [[139,2],[139,3],[140,2.5],[141,3],[141,2],[142,2.5],[143,3],[144,2],[145,2.5],[146,3],[147,2],[148,3],[148,5],[149,4],[150,2],[150,1.5],[151,3],[152,4],[153,5],[153,2],[154,3.5],[155,4],[156,3],[157,2.5],[158,4],[159,3.5],[160,3],[161,4],[162,3.5],[163,2.5],[164,6],[164,4],[165,3.5],[166,3],[167,4],[168,3.5],[169,4],[169,5],[170,3],[171,4.5],[172,2],[172,5],[173,1],[173,4],[174,3],[175,4.5],[176,3],[177,16],[177,13],[177,10],[177,8],[178,6],[179,9],[180,7],[181,8],[181,1],[182,6],[183,7],[184,9],[185,26],[186,26],[187,26],[188,26],[189,25.5],[190,25.5],[191,25.5],[192,25.5],[193,25],[194,25],[195,25],[196,25],[197,25],[198,24.5],[199,25],[200,24.5],[201,24.5],[202,24.5],[203,24],[204,24],[205,24],[206,24],[207,23.5],[208,24],[209,23.5],[210,23.5],[211,24],[211,22],[212,18],[212,14],[212,10],[213,7],[214,6],[215,6],[216,5.5],[217,6],[218,7],[219,6],[220,5],[221,6],[222,6.5],[223,8],[224,9],[225,10],[226,8.5],[227,11],[228,10],[229,9],[230,10],[231,11],[232,9],[233,25],[233,22],[233,19],[233,17],[234,17],[235,16.5],[236,16.5],[237,16.5],[238,16],[239,16.5],[240,16],[241,16],[242,16],[243,15.5],[244,16],[249,24],[249,22],[249,20],[250,21],[255,19],[255,20],[256,20.5],[261,9],[262,8],[262,9],[263,7.5],[264,8]];
const id2_2015 = [[139,7],[139,8],[140,7.5],[141,8],[142,8],[142,10],[143,9],[144,10],[145,11],[145,10],[146,10.5],[147,9.5],[148,10],[149,9.5],[150,9.5],[151,9.5]];

// one entry per subplot: season end year, grid slot, series
const panels = [
  { title: '2006', col: 0, row: 0, sim: sim2006, id0: id0_2006, id1: [], id2: [] },
  { title: '2007', col: 1, row: 0, sim: sim2007, id0: id0_2007, id1: [], id2: [] },
  { title: '2008', col: 0, row: 1, sim: sim2008, id0: id0_2008, id1: id1_2008, id2: id2_2008 },
  { title: '2009', col: 1, row: 1, sim: sim2009, id0: id0_2009, id1: [], id2: id2_2009 },
  { title: '2010', col: 0, row: 2, sim: sim2010, id0: id0_2010, id1: id1_2010, id2: id2_2010 },
  { title: '2011', col: 1, row: 2, sim: sim2011, id0: id0_2011, id1: id1_2011, id2: id2_2011 },
  { title: '2012', col: 0, row: 3, sim: sim2012, id0: id0_2012, id1: id1_2012, id2: id2_2012 },
  { title: '2014', col: 1, row: 3, sim: sim2014, id0: id0_2014, id1: id1_2014, id2: [] },
  { title: '2015', col: 0, row: 4, sim: sim2015, id0: id0_2015, id1: id1_2015, id2: id2_2015 }
];

const yMajor = [0, 20, 40];
const yMinor = [5, 10, 15, 25, 30, 35, 45];
const rowTops = [0, 224, 447, 670, 894];
const FONT = "'Liberation Serif', serif";

Chart.defaults.font.family = FONT;
Chart.defaults.color = '#000';

const DAY = 86400000;
function monthTicks(endYear) {
  const y0 = endYear - 1;
  const t0 = Date.UTC(y0, 8, 1);
  const major = [], minor = [], labels = {};
  for (let k = 0; k <= 12; k++) {
    const m = (8 + k) % 12, y = y0 + Math.floor((8 + k) / 12);
    const d = Math.round((Date.UTC(y, m, 1) - t0) / DAY);
    if (k % 2 === 0) {
      major.push(d);
      labels[d] = y + '\u2212' + String(m + 1).padStart(2, '0');
    } else {
      minor.push(d);
    }
    if (k < 12) minor.push(d + 15);
  }
  return { major, minor, labels, max: major[major.length - 1] };
}

// frame under the data, inward ticks on all four sides over it
function frameAndTicks(xMajor, xMinor) {
  return {
    id: 'frameAndTicks',
    beforeDatasetsDraw(chart) {
      const { ctx, chartArea: a } = chart;
      ctx.save();
      ctx.strokeStyle = '#000';
      ctx.lineWidth = 1;
      ctx.strokeRect(Math.round(a.left) + 0.5, Math.round(a.top) + 0.5,
                     Math.round(a.right - a.left) - 1, Math.round(a.bottom - a.top) - 1);
      ctx.restore();
    },
    afterDatasetsDraw(chart) {
      const { ctx, chartArea: a, scales: { x, y } } = chart;
      ctx.save();
      ctx.strokeStyle = '#000';
      ctx.lineWidth = 1;
      ctx.beginPath();
      const xt = (v, len) => {
        const px = Math.round(x.getPixelForValue(v)) + 0.5;
        ctx.moveTo(px, a.bottom); ctx.lineTo(px, a.bottom - len);
        ctx.moveTo(px, a.top); ctx.lineTo(px, a.top + len);
      };
      const yt = (v, len) => {
        const py = Math.round(y.getPixelForValue(v)) + 0.5;
        ctx.moveTo(a.left, py); ctx.lineTo(a.left + len, py);
        ctx.moveTo(a.right, py); ctx.lineTo(a.right - len, py);
      };
      xMajor.forEach(v => xt(v, 5));
      xMinor.forEach(v => xt(v, 2.5));
      yMajor.forEach(v => yt(v, 5));
      yMinor.forEach(v => yt(v, 2.5));
      ctx.stroke();
      ctx.restore();
    }
  };
}

// h_snow (cm), rotated, with the subscript set smaller and lower
const yLabel = {
  id: 'yLabel',
  afterDraw(chart) {
    const { ctx, chartArea: a } = chart;
    ctx.save();
    ctx.translate(20, (a.top + a.bottom) / 2);
    ctx.rotate(-Math.PI / 2);
    ctx.fillStyle = '#000';
    ctx.textBaseline = 'alphabetic';
    const fH = "italic 19px " + FONT, fSub = "13px " + FONT, fCm = "17.5px " + FONT;
    ctx.font = fH; const wH = ctx.measureText('h').width;
    ctx.font = fSub; const wS = ctx.measureText('snow').width;
    ctx.font = fCm; const wC = ctx.measureText(' (cm)').width;
    let x0 = -(wH + wS + wC) / 2;
    const base = 6;
    ctx.font = fH; ctx.fillText('h', x0, base); x0 += wH;
    ctx.font = fSub; ctx.fillText('snow', x0, base + 3.5); x0 += wS;
    ctx.font = fCm; ctx.fillText(' (cm)', x0, base);
    ctx.restore();
  }
};

const toXY = arr => arr.map(([x, y]) => ({ x, y }));
const dots = (label, arr, color, order) => ({
  label, data: toXY(arr), order,
  backgroundColor: color, borderColor: color, borderWidth: 0,
  pointRadius: 1.7, pointHoverRadius: 0
});

const page = document.getElementById('page');
panels.forEach(p => {
  const left = p.col === 0;
  const t = monthTicks(+p.title);
  const cv = document.createElement('canvas');
  cv.width = left ? 572 : 554;
  cv.height = 223;
  cv.style.left = (left ? 0 : 572) + 'px';
  cv.style.top = rowTops[p.row] + 'px';
  page.appendChild(cv);

  new Chart(cv, {
    type: 'scatter',
    data: {
      datasets: [
        { label: 'simulation', data: toXY(p.sim), showLine: true, order: 0,
          borderColor: '#0000ff', borderWidth: 1.5, pointRadius: 0, pointHoverRadius: 0, tension: 0, fill: false },
        dots('MBS snow depth ID2', p.id2, '#ffa500', 1),
        dots('MBS snow depth ID1', p.id1, '#ff0000', 2),
        dots('MBS snow depth ID0', p.id0, '#000000', 3)
      ]
    },
    options: {
      responsive: false,
      animation: false,
      devicePixelRatio: 1,
      events: [],
      layout: { autoPadding: false, padding: { left: 0, right: left ? 38 : 40, top: 0, bottom: 0 } },
      plugins: {
        legend: { display: false },
        tooltip: { enabled: false },
        title: {
          display: true, text: p.title, color: '#000',
          font: { size: 19, weight: 'normal', lineHeight: 1.2 },
          padding: { top: 5, bottom: 6.2 }
        }
      },
      scales: {
        x: {
          type: 'linear', min: 0, max: t.max,
          afterBuildTicks: s => { s.ticks = t.major.map(v => ({ value: v })); },
          afterFit: s => { s.height = 22; },
          ticks: { autoSkip: false, maxRotation: 0, minRotation: 0, padding: 1, color: '#000',
                   font: { size: 17.5 }, callback: v => t.labels[v] },
          grid: { color: '#8a8a8a', lineWidth: 0.8, drawTicks: false },
          border: { display: false, dash: [3, 2.5] }
        },
        y: {
          type: 'linear', min: 0, max: 50,
          afterBuildTicks: s => { s.ticks = yMajor.map(v => ({ value: v })); },
          afterFit: s => { s.width = left ? 59 : 39; },
          ticks: { display: left, padding: 7, color: '#000', font: { size: 17.5 } },
          grid: { color: '#8a8a8a', lineWidth: 0.8, drawTicks: false },
          border: { display: false, dash: [3, 2.5] }
        }
      }
    },
    plugins: left ? [frameAndTicks(t.major, t.minor), yLabel] : [frameAndTicks(t.major, t.minor)]
  });
});

// shared legend in the empty tenth slot
const legendRows = [
  { text: 'MBS snow depth ID0', color: '#000000' },
  { text: 'MBS snow depth ID1', color: '#ff0000' },
  { text: 'MBS snow depth ID2', color: '#ffa500' },
  { text: 'simulation', color: '#0000ff', line: true }
];
const legend = document.createElement('div');
legend.className = 'legend';
legendRows.forEach((r, i) => {
  const row = document.createElement('div');
  row.className = 'row';
  row.style.top = [-1, 23, 48, 72][i] + 'px';
  const mark = document.createElement('div');
  mark.className = r.line ? 'ln' : 'dot';
  mark.style.background = r.color;
  const txt = document.createElement('span');
  txt.className = 'txt';
  txt.textContent = r.text;
  row.appendChild(mark);
  row.appendChild(txt);
  legend.appendChild(row);
});
page.appendChild(legend);
</script>
</body>
</html>
